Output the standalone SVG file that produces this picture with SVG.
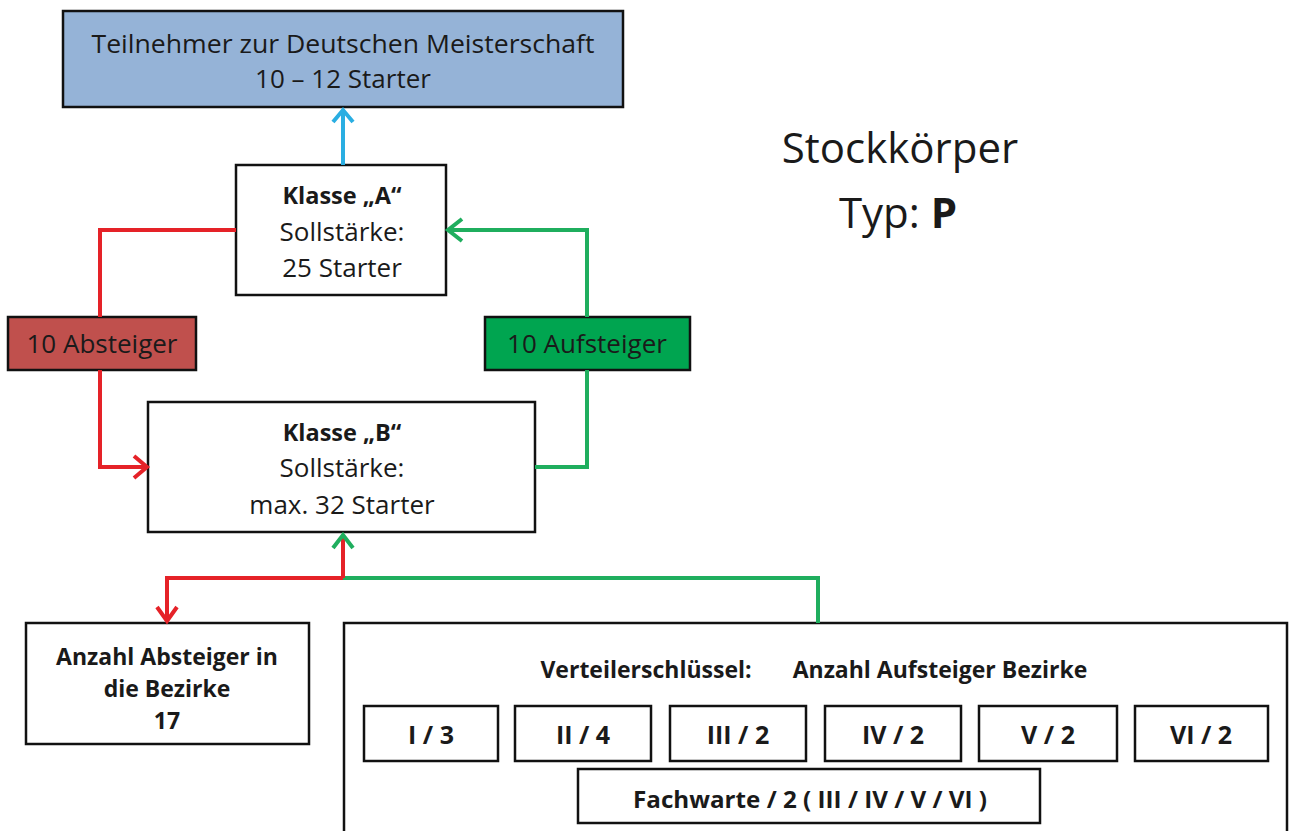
<svg xmlns="http://www.w3.org/2000/svg" width="1290" height="831" viewBox="0 0 1290 831">
<style>
text{font-family:"Open Sans","Noto Sans","Liberation Sans",sans-serif;fill:#1a1a1a;text-anchor:middle}
.box{fill:#fff;stroke:#111;stroke-width:2.5}
.t{font-size:26px}
.kb{font-size:23.5px;font-weight:bold}
.b{font-weight:bold;font-size:23px}
.s{font-weight:bold;font-size:25px}
.ln{fill:none;stroke-width:4;stroke-linejoin:miter}
.red{stroke:#e52228}
.grn{stroke:#1fae5e}
.blu{stroke:#2aaee2}
</style>
<rect width="1290" height="831" fill="#fff"/>
<g id="dm">
<rect x="63" y="11" width="560" height="96" fill="#95b3d7" stroke="#111" stroke-width="2.5"/>
<text class="t" x="343" y="53" textLength="503" lengthAdjust="spacingAndGlyphs">Teilnehmer zur Deutschen Meisterschaft</text>
<text class="t" x="343" y="88">10 – 12 Starter</text>
</g>
<g id="klasseA">
<rect class="box" x="236" y="165" width="210" height="130"/>
<text class="kb" x="342" y="204">Klasse „A“</text>
<text class="t" x="342" y="241">Sollstärke:</text>
<text class="t" x="342" y="277">25 Starter</text>
</g>
<g id="absteiger">
<rect x="8" y="317" width="188" height="53" fill="#c0504d" stroke="#111" stroke-width="2.5"/>
<text class="t" x="102" y="353">10 Absteiger</text>
</g>
<g id="aufsteiger">
<rect x="485" y="317" width="205" height="53" fill="#00a550" stroke="#111" stroke-width="2.5"/>
<text class="t" x="587" y="353">10 Aufsteiger</text>
</g>
<g id="klasseB">
<rect class="box" x="148" y="402" width="387" height="130"/>
<text class="kb" x="342" y="441">Klasse „B“</text>
<text class="t" x="342" y="477">Sollstärke:</text>
<text class="t" x="342" y="514">max. 32 Starter</text>
</g>
<g id="bezirke">
<rect class="box" x="26" y="623" width="283" height="121"/>
<text class="b" x="167" y="665">Anzahl Absteiger in</text>
<text class="b" x="167" y="697">die Bezirke</text>
<text class="b" x="167" y="729">17</text>
</g>
<g id="verteiler">
<rect class="box" x="344" y="623" width="943" height="215"/>
<text class="b" x="646" y="678">Verteilerschlüssel:</text>
<text class="b" x="940" y="678">Anzahl Aufsteiger Bezirke</text>
<rect class="box" x="364" y="706" width="134" height="55"/>
<text class="s" x="431" y="744">I / 3</text>
<rect class="box" x="515" y="706" width="136" height="55"/>
<text class="s" x="583" y="744">II / 4</text>
<rect class="box" x="670" y="706" width="136" height="55"/>
<text class="s" x="738" y="744">III / 2</text>
<rect class="box" x="825" y="706" width="136" height="55"/>
<text class="s" x="893" y="744">IV / 2</text>
<rect class="box" x="979" y="706" width="138" height="55"/>
<text class="s" x="1048" y="744">V / 2</text>
<rect class="box" x="1135" y="706" width="133" height="55"/>
<text class="s" x="1201" y="744">VI / 2</text>
<rect class="box" x="578" y="769" width="462" height="54"/>
<text class="b" x="810" y="808" textLength="354" lengthAdjust="spacingAndGlyphs">Fachwarte / 2 ( III / IV / V / VI )</text>
</g>
<g id="titel">
<text x="900" y="163" font-size="42">Stockkörper</text>
<text x="898" y="228" font-size="42">Typ: <tspan font-weight="bold">P</tspan></text>
</g>
<g id="connectors">
<path class="ln blu" d="M343 165 V110"/>
<path class="ln blu" d="M333 122 L343 110 L353 122"/>
<path class="ln red" d="M236 230 H100 V317"/>
<path class="ln red" d="M100 370 V467 H147"/>
<path class="ln red" d="M134 456 L147 467 L134 478"/>
<path class="ln grn" d="M535 467 H587 V370"/>
<path class="ln grn" d="M587 317 V230 H448"/>
<path class="ln grn" d="M462 219 L448 230 L462 241"/>
<path class="ln grn" d="M343 578 H818 V623"/>
<path class="ln red" d="M343 578 V535"/>
<path class="ln red" d="M343 578 H167 V621"/>
<path class="ln red" d="M157 607 L167 621 L177 607"/>
<path class="ln grn" d="M333 548 L343 535 L353 548"/>
</g>
</svg>
